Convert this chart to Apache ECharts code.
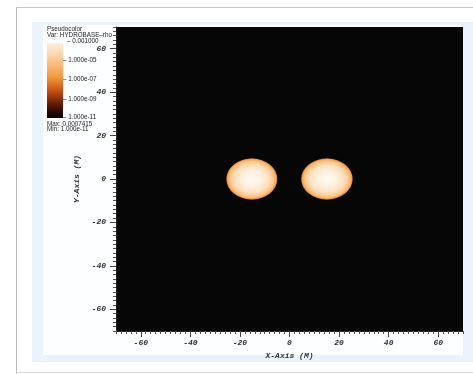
<!DOCTYPE html>
<html>
<head>
<meta charset="utf-8">
<script src="https://cdn.jsdelivr.net/npm/echarts@6/dist/echarts.min.js"></script>
<style>html,body{margin:0;padding:0;background:#fff}#c{width:473px;height:374px}</style>
</head>
<body>
<div id="c"></div>
<script>
// ---- data ----
const xTicks = [-60, -40, -20, 0, 20, 40, 60];
const yTicks = [-60, -40, -20, 0, 20, 40, 60];
const axisMin = -70, axisMax = 70;
// two stars: centres and semi-axes (in M)
const starX  = [-15.2, 15.1];
const starY  = [0.0, 0.0];
const starRx = [10.3, 10.4];
const starRy = [9.5, 9.5];
// legend
const legendTitle = 'Pseudocolor';
const legendVar = 'Var: HYDROBASE\u2013rho';
const legendLabels = ['0.001000', '1.000e-05', '1.000e-07', '1.000e-09', '1.000e-11'];
const legendMax = 'Max: 0.0007415';
const legendMin = 'Min: 1.000e-11';

const chart = echarts.init(document.getElementById('c'), null, {renderer: 'canvas'});

const tickFont = {fontFamily: 'Liberation Mono', fontStyle: 'italic', fontWeight: 'bold', fontSize: 8, color: '#333'};
const lf = {fontFamily: 'Liberation Sans', fontSize: 6.3, fill: '#222'};

const labelY = [41, 60, 79.5, 99, 117];
const graphics = [
  {type: 'rect', z: -20, shape: {x: 0, y: 0, width: 473, height: 374}, style: {fill: '#ffffff'}},
  {type: 'line', z: -19, shape: {x1: 16, y1: 7.5, x2: 473, y2: 7.5}, style: {stroke: '#c8c8c8', lineWidth: 1}},
  {type: 'line', z: -19, shape: {x1: 16.5, y1: 7, x2: 16.5, y2: 374}, style: {stroke: '#b8b8b8', lineWidth: 1}},
  {type: 'line', z: -19, shape: {x1: 16, y1: 372.5, x2: 473, y2: 372.5}, style: {stroke: '#d8d8d8', lineWidth: 1}},
  {type: 'rect', z: -18, shape: {x: 32, y: 22, width: 441, height: 340}, style: {fill: '#edf3fc'}},
  {type: 'rect', z: -17, shape: {x: 43, y: 25, width: 420, height: 330}, style: {fill: '#fdfeff'}},
  {type: 'text', z: -5, x: 47, y: 26, style: Object.assign({text: legendTitle}, lf)},
  {type: 'text', z: -5, x: 47, y: 32, style: Object.assign({text: legendVar}, lf)},
  {type: 'rect', z: -5, shape: {x: 47, y: 43, width: 16, height: 75},
    style: {fill: new echarts.graphic.LinearGradient(0, 0, 0, 1, [
      {offset: 0, color: '#fdeddc'},
      {offset: 0.15, color: '#fcd6ae'},
      {offset: 0.32, color: '#f9b46f'},
      {offset: 0.45, color: '#f39a42'},
      {offset: 0.58, color: '#d9661f'},
      {offset: 0.7, color: '#a63d12'},
      {offset: 0.82, color: '#5e1a07'},
      {offset: 0.93, color: '#250602'},
      {offset: 1, color: '#0a0000'}
    ])}}
];
legendLabels.forEach((t, i) => {
  graphics.push({type: 'text', z: -5, x: i === 0 ? 67 : 63, y: labelY[i] - 3.2,
    style: Object.assign({text: '\u2013 ' + t}, lf)});
});
graphics.push({type: 'text', z: -5, x: 47, y: 121, style: Object.assign({text: legendMax}, lf)});
graphics.push({type: 'text', z: -5, x: 47, y: 126.5, style: Object.assign({text: legendMin}, lf)});

const starData = starX.map((x, i) => [x, starY[i], starRx[i], starRy[i]]);

function mkAxis(pos, isMinor, ticks, name, nameGap, labelMargin) {
  const a = {
    type: 'value', min: axisMin, max: axisMax, position: pos, gridIndex: 0,
    splitLine: {show: false},
    axisLine: {show: !isMinor, onZero: false, lineStyle: {color: '#222', width: 1}},
  };
  if (isMinor) {
    a.interval = 2;
    a.axisTick = {show: true, inside: false, length: 3, lineStyle: {color: '#555', width: 1}};
    a.axisLabel = {show: false};
  } else {
    a.axisTick = {show: true, inside: false, length: 6, customValues: ticks, lineStyle: {color: '#444', width: 1}};
    a.axisLabel = Object.assign({show: true, customValues: ticks, margin: labelMargin}, tickFont);
    a.name = name;
    a.nameLocation = 'middle';
    a.nameGap = nameGap;
    a.nameTextStyle = Object.assign({}, tickFont);
  }
  return a;
}

chart.setOption({
  animation: false,
  backgroundColor: 'transparent',
  graphic: graphics,
  grid: {left: 116, top: 27, width: 347, height: 304, show: true, backgroundColor: '#060606', borderWidth: 0, z: 0},
  xAxis: [
    mkAxis('bottom', true),
    mkAxis('bottom', false, xTicks, 'X-Axis (M)', 19, 8)
  ],
  yAxis: [
    mkAxis('left', true),
    mkAxis('left', false, yTicks, 'Y-Axis (M)', 31, 10)
  ],
  series: [{
    type: 'custom',
    xAxisIndex: 0, yAxisIndex: 0,
    clip: true,
    data: starData,
    renderItem: function (params, api) {
      const c = api.coord([api.value(0), api.value(1)]);
      const s = api.size([api.value(2), api.value(3)]);
      return {
        type: 'circle',
        x: c[0], y: c[1],
        scaleX: s[0] / s[1], scaleY: 1,
        shape: {cx: 0, cy: 0, r: s[1]},
        style: {
          fill: {type: 'radial', x: 0.5, y: 0.5, r: 0.5, colorStops: [
            {offset: 0, color: '#fffaf4'},
            {offset: 0.35, color: '#fef1e2'},
            {offset: 0.65, color: '#fde0bf'},
            {offset: 0.83, color: '#fbc88e'},
            {offset: 0.93, color: '#f6aa5c'},
            {offset: 0.985, color: '#e98f3e'},
            {offset: 1, color: '#7a3410'}
          ]},
          stroke: 'rgba(70,25,5,0.5)', lineWidth: 0.5
        }
      };
    }
  }]
});
</script>
</body>
</html>
